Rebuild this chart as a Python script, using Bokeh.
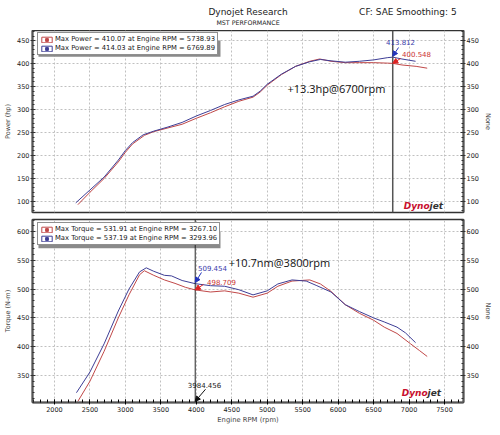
from bokeh.plotting import figure
from bokeh.models import (Range1d, LinearAxis, Span, Label, Arrow, NormalHead,
                          Legend, LegendItem, SingleIntervalTicker, BoxAnnotation)
from bokeh.layouts import column
from bokeh.embed import file_html
from bokeh.resources import INLINE

# ---------------- data ----------------
rpm_power_blue = [2300, 2500, 2700, 2900, 3000, 3100, 3250, 3400, 3600, 3800, 4000, 4200, 4400,
                  4600, 4800, 4900, 5000, 5200, 5400, 5600, 5750, 5900, 6100, 6300, 6500, 6700,
                  6770, 6900, 7092]
hp_blue = [97, 125, 153, 190, 211, 228, 245, 253, 262, 272, 286, 298, 311,
           321, 329, 340, 355, 377, 394, 404, 409, 406, 403, 405, 408, 413,
           414, 410, 405]

rpm_power_red = [2330, 2500, 2700, 2900, 3000, 3100, 3270, 3400, 3600, 3800, 4000, 4200, 4400,
                 4600, 4800, 4900, 5000, 5200, 5400, 5600, 5739, 5900, 6100, 6300, 6500, 6700,
                 6770, 6900, 7100, 7256]
hp_red = [93, 120, 150, 186, 207, 225, 244, 252, 260, 268, 281, 293, 306,
          318, 327, 338, 353, 376, 394, 405, 410, 405, 402, 402, 402, 401,
          400.5, 397, 394, 390]

rpm_torque_blue = [2310, 2500, 2700, 2900, 3050, 3200, 3294, 3400, 3550, 3650, 3800, 3984, 4200,
                   4400, 4600, 4800, 5000, 5150, 5350, 5550, 5700, 5900, 6100, 6300, 6500, 6650,
                   6830, 6950, 7092]
nm_blue = [320, 356, 405, 462, 500, 530, 537, 531, 524, 523, 515, 509.5, 506,
           505, 499, 490, 497, 509, 516, 514, 506, 495, 473, 461, 450, 443,
           434, 424, 407]

rpm_torque_red = [2330, 2500, 2700, 2900, 3050, 3200, 3267, 3400, 3550, 3700, 3850, 3984, 4200,
                  4400, 4600, 4800, 5000, 5150, 5350, 5600, 5750, 5900, 6100, 6300, 6500, 6650,
                  6830, 7021, 7150, 7256]
nm_red = [305, 340, 392, 450, 490, 525, 532, 524, 516, 510, 503, 498.7, 495,
          497, 493, 486, 493, 505, 514, 516, 509, 496, 473, 458, 446, 434,
          423, 405, 393, 383]

legend_power = ["Max Power = 410.07 at Engine RPM = 5738.93",
                "Max Power = 414.03 at Engine RPM = 6769.89"]
legend_torque = ["Max Torque = 531.91 at Engine RPM = 3267.10",
                 "Max Torque = 537.19 at Engine RPM = 3293.96"]

title_main = "Dynojet Research"
title_sub = "MST PERFORMANCE"
title_right = "CF: SAE Smoothing: 5"

cursor_power_rpm = 6770
cursor_power_blue = 413.812
cursor_power_red = 400.548
cursor_torque_rpm = 3984.456
cursor_torque_blue = 509.454
cursor_torque_red = 498.709

BLUE = "#3e3e96"
RED = "#c04848"
FONT = "DejaVu Sans"
X_RANGE = (1690, 7768)
W = 500
LB, RB = 32, 37


def style(p, ylab):
    p.background_fill_color = "white"
    p.border_fill_color = "white"
    p.outline_line_color = "#333333"
    p.outline_line_width = 1.5
    p.xgrid.ticker = SingleIntervalTicker(interval=500)
    p.xgrid.grid_line_color = "#c0c0c0"
    p.xgrid.grid_line_dash = "2 2"
    p.ygrid.grid_line_color = "#c0c0c0"
    p.ygrid.grid_line_dash = "2 2"
    for ax in p.yaxis:
        ax.ticker = SingleIntervalTicker(interval=50, num_minor_ticks=5)
        ax.major_label_text_font = FONT
        ax.major_label_text_font_size = "6.5px"
        ax.major_label_text_color = "#222222"
        ax.major_label_standoff = 1
        ax.axis_label_text_font = FONT
        ax.axis_label_text_font_size = "6.5px"
        ax.axis_label_text_font_style = "normal"
        ax.axis_label_standoff = 2
        ax.major_tick_in = 3
        ax.major_tick_out = 2
        ax.minor_tick_in = 2
        ax.minor_tick_out = 0
        ax.axis_line_color = "#555555"
        ax.axis_line_width = 2
        ax.major_tick_line_color = "#333333"
        ax.minor_tick_line_color = "#333333"
    p.yaxis[0].axis_label = ylab


def add_right_axis(p):
    ax = LinearAxis(axis_label="None")
    p.add_layout(ax, "right")


def add_legend(p, labels, y0, loc, shadow):
    l, r, t, b = shadow
    p.add_layout(BoxAnnotation(left=l, right=r, top=t, bottom=b, fill_color="#8a8a8a",
                               fill_alpha=1, line_color=None))
    items = []
    for lab, col in zip(labels, [RED, BLUE]):
        r1 = p.rect(x=[0], y=[y0], width=1, height=1, fill_color="white", line_color=col)
        r2 = p.scatter(x=[0], y=[y0], marker="square", size=4, fill_color=col, line_color=col)
        items.append(LegendItem(label=lab, renderers=[r1, r2]))
    leg = Legend(items=items, location=loc)
    leg.label_text_font = FONT
    leg.label_text_font_size = "6.8px"
    leg.label_text_color = "#222222"
    leg.glyph_width = 13
    leg.glyph_height = 7
    leg.label_height = 7
    leg.label_standoff = 2
    leg.spacing = 1
    leg.padding = 2
    leg.margin = 0
    leg.border_line_color = "#222222"
    leg.border_line_width = 1
    leg.background_fill_color = "white"
    leg.background_fill_alpha = 1
    p.add_layout(leg)


def add_logo(p, x, y):
    p.add_layout(Label(x=x, y=y, text="Dyno", text_align="right", text_baseline="middle",
                       text_font=FONT, text_font_size="9px", text_font_style="bold italic",
                       text_color="#c8102e"))
    p.add_layout(Label(x=x, y=y, text="jet", text_align="left", text_baseline="middle",
                       text_font=FONT, text_font_size="9px", text_font_style="bold italic",
                       text_color="#333333"))


# ---------------- header ----------------
head = figure(width=W, height=30, x_range=Range1d(0, W), y_range=Range1d(0, 30),
              output_backend="svg", toolbar_location=None,
              min_border_left=0, min_border_right=0, min_border_top=0, min_border_bottom=0)
head.axis.visible = False
head.grid.visible = False
head.outline_line_color = None
head.add_layout(Label(x=250, y=19, text=title_main, text_align="center", text_baseline="middle",
                      text_font=FONT, text_font_size="9px", text_color="#222222"))
head.add_layout(Label(x=250, y=8, text=title_sub, text_align="center", text_baseline="middle",
                      text_font=FONT, text_font_size="6.3px", text_color="#222222"))
head.add_layout(Label(x=492, y=19, text=title_right, text_align="right", text_baseline="middle",
                      text_font=FONT, text_font_size="9px", text_color="#222222"))

# ---------------- top: power ----------------
top = figure(width=W, height=186, x_range=Range1d(*X_RANGE),
             y_range=Range1d(76, 472), output_backend="svg", toolbar_location=None,
             min_border_left=LB, min_border_right=RB, min_border_top=0, min_border_bottom=4)
top.xaxis.visible = False
add_right_axis(top)
style(top, "Power (hp)")

top.line(rpm_power_red, hp_red, line_color=RED, line_width=1)
top.line(rpm_power_blue, hp_blue, line_color=BLUE, line_width=1)
add_legend(top, legend_power, 200, (5, 157), (1774, 4341, 450, 415))

top.add_layout(Span(location=cursor_power_rpm, dimension="height", line_color="#555555", line_width=1.5))

top.add_layout(Arrow(end=NormalHead(size=5, fill_color="#2233bb", line_color="#2233bb"),
                     x_start=6852, y_start=435, x_end=cursor_power_rpm, y_end=cursor_power_blue + 2,
                     line_color="#2233bb", line_width=1))
top.add_layout(Arrow(end=NormalHead(size=5, fill_color="#dd2222", line_color="#dd2222"),
                     x_start=6880, y_start=411, x_end=cursor_power_rpm, y_end=cursor_power_red,
                     line_color="#dd2222", line_width=1))
top.add_layout(Label(x=6880, y=448, text=f"{cursor_power_blue:.3f}", text_align="center",
                     text_baseline="middle", text_font=FONT, text_font_size="7px", text_color="#3a3aaa"))
top.add_layout(Label(x=7106, y=420, text=f"{cursor_power_red:.3f}", text_align="center",
                     text_baseline="middle", text_font=FONT, text_font_size="7px", text_color="#cc3333"))
top.add_layout(Label(x=5977, y=345, text="+13.3hp@6700rpm", text_align="center",
                     text_baseline="middle", text_font="Open Sans", text_font_size="11px", text_color="#111111"))
add_logo(top, 7290, 91)

# ---------------- bottom: torque ----------------
bot = figure(width=W, height=219, x_range=Range1d(*X_RANGE),
             y_range=Range1d(303, 621), output_backend="svg", toolbar_location=None,
             min_border_left=LB, min_border_right=RB, min_border_top=3, min_border_bottom=33)
add_right_axis(bot)
style(bot, "Torque (N-m)")
xa = bot.xaxis[0]
xa.ticker = SingleIntervalTicker(interval=500, num_minor_ticks=5)
xa.axis_label = "Engine RPM (rpm)"
xa.major_label_text_font = FONT
xa.major_label_text_font_size = "6.5px"
xa.major_label_text_color = "#222222"
xa.major_label_standoff = 2
xa.axis_label_text_font = FONT
xa.axis_label_text_font_size = "6.8px"
xa.axis_label_text_font_style = "normal"
xa.axis_label_standoff = 1
xa.major_tick_in = 3
xa.major_tick_out = 2
xa.minor_tick_in = 3
xa.minor_tick_out = 0
xa.axis_line_color = "#555555"
xa.axis_line_width = 2

bot.line(rpm_torque_red, nm_red, line_color=RED, line_width=1)
bot.line(rpm_torque_blue, nm_blue, line_color=BLUE, line_width=1)
add_legend(bot, legend_torque, 400, (5, 157), (1774, 4341, 600, 571))

bot.add_layout(Span(location=cursor_torque_rpm, dimension="height", line_color="#222222", line_width=1))
bot.add_layout(Arrow(end=NormalHead(size=5, fill_color="#2233bb", line_color="#2233bb"),
                     x_start=4073, y_start=529, x_end=cursor_torque_rpm, y_end=cursor_torque_blue + 2,
                     line_color="#2233bb", line_width=1))
bot.add_layout(Arrow(end=NormalHead(size=5, fill_color="#dd2222", line_color="#dd2222"),
                     x_start=4100, y_start=508, x_end=cursor_torque_rpm, y_end=cursor_torque_red,
                     line_color="#dd2222", line_width=1))
bot.add_layout(Arrow(end=NormalHead(size=5, fill_color="#111111", line_color="#111111"),
                     x_start=4130, y_start=326, x_end=cursor_torque_rpm, y_end=305,
                     line_color="#111111", line_width=1))
bot.add_layout(Label(x=4228, y=537.5, text=f"{cursor_torque_blue:.3f}", text_align="center",
                     text_baseline="middle", text_font=FONT, text_font_size="7px", text_color="#3a3aaa"))
bot.add_layout(Label(x=4355, y=513, text=f"{cursor_torque_red:.3f}", text_align="center",
                     text_baseline="middle", text_font=FONT, text_font_size="7px", text_color="#cc3333"))
bot.add_layout(Label(x=4116, y=333, text=f"{cursor_torque_rpm:.3f}", text_align="center",
                     text_baseline="middle", text_font=FONT, text_font_size="7px", text_color="#222222"))
bot.add_layout(Label(x=5173, y=546, text="+10.7nm@3800rpm", text_align="center",
                     text_baseline="middle", text_font="Open Sans", text_font_size="11px", text_color="#111111"))
add_logo(bot, 7262, 319)

layout = column(head, top, bot, spacing=0)
open("out.html", "w").write(file_html(layout, INLINE))
